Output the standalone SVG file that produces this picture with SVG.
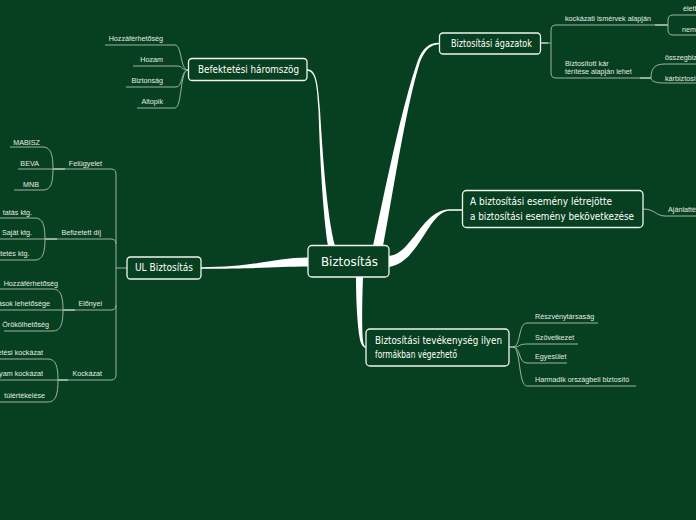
<svg xmlns="http://www.w3.org/2000/svg" width="696" height="520" viewBox="0 0 696 520">
<style>
.bg{fill:#074020}
.box{fill:#074020;stroke:#f2f4f2;stroke-width:1.3}
.bt{font-family:"DejaVu Sans","Liberation Sans",sans-serif;fill:#ffffff}
.t{font-family:"Liberation Sans",Arial,sans-serif;font-size:7.2px;fill:#e4ebe5}
.ln{fill:none;stroke:#9db3a3;stroke-width:1}
.hl{fill:none;stroke:#d8e2da;stroke-width:1.2}
.br{fill:#ffffff}
</style>
<rect class="bg" x="0" y="0" width="696" height="520"/>
<g id="connectors">
<path class="br" d="M307,69.2 C317,69.2 318,85 320,110 C323,160 327,215 335,246 L328,246 C323,215 320,160 318.5,110 C317,87 316,70.8 307,70.8 Z"/>
<path class="br" d="M383,246 C392,200 405,110 420,62 C425,50 430,44.6 439,44.2 L439,42.8 C429,43 423,48 418,60 C402,105 385,190 373,246 Z"/>
<path class="br" d="M389,256 C412,254 422,209.2 450,209.2 L463,209.2 L463,210.8 L450,210.8 C428,211 420,262 389,267 Z"/>
<path class="br" d="M356,277 C356,305 358,335 361,343 C362,346 364,347.8 366,347.8 L366,346.4 C364.5,346.4 363.7,345 363.2,342 C361.8,330 362,305 363,277 Z"/>
<path class="br" d="M308,257.5 C275,257.5 255,267.3 201,267.3 L201,268.7 C258,268.7 278,266.5 308,266.5 Z"/>
<path class="ln" d="M188,70 C180,70 182,45 175,45 L105,45"/>
<path class="ln" d="M188,70 C181,70 183,66 177,66 L133,66"/>
<path class="ln" d="M188,70 C181,70 183,87 176,87 L126,87"/>
<path class="ln" d="M188,70 C180,70 182,108 175,108 L137,108"/>
<path class="ln" d="M540,43 L551,43 M551,43 L551,30 Q551,25 556,25 L668,25 M551,43 L551,73 Q551,78 556,78 L651,78"/>
<path class="hl" d="M540,43 L548,43 M655,25 L668,25 M640,78 L651,78"/>
<path class="ln" d="M668,25 L668,20 Q668,15 673,15 L696,15 M668,25 L668,30 Q668,35 673,35 L696,35"/>
<path class="ln" d="M651,78 C651,68 655,64 665,64 L696,64 M651,78 C651,81 655,83 665,83 L696,83"/>
<path class="ln" d="M643,209 C655,209 656,216 665,216 L696,216"/>
<path class="hl" d="M509,347 L515,347"/>
<path class="ln" d="M513,347 C521,347 518,323 527,323 L598,323"/>
<path class="ln" d="M513,347 C521,347 518,344 527,344 L578,344"/>
<path class="ln" d="M513,347 C521,347 518,363 527,363 L567,363"/>
<path class="ln" d="M513,347 C521,347 518,386 527,386 L636,386"/>
<path class="ln" d="M116,268 L127,268"/>
<path class="ln" d="M53,169 L111,169 Q116,169 116,174 L116,375 Q116,380 111,380 L58,380"/>
<path class="ln" d="M45,239 L111,239 Q116,239 116,244"/>
<path class="ln" d="M63,310 L111,310 Q116,310 116,305"/>
<path class="hl" d="M53,169 L65,169 M45,239 L57,239 M63,310 L75,310 M58,380 L68,380"/>
<path class="ln" d="M10,147 L43,147 C51,147 53,155 53,169 M14,190 L43,190 C51,190 53,183 53,169 M18,169 L53,169"/>
<path class="ln" d="M0,218 L35,218 C43,218 45,226 45,239 M0,260 L35,260 C43,260 45,252 45,239 M0,239 L45,239"/>
<path class="ln" d="M0,289 L53,289 C61,289 63,297 63,310 M4,331 L53,331 C61,331 63,323 63,310 M0,310 L63,310"/>
<path class="ln" d="M0,359 L48,359 C56,359 58,367 58,380 M0,402 L48,402 C56,402 58,394 58,380 M0,380 L58,380"/>
</g>
<g id="node-center">
<rect class="box" x="308" y="245.5" width="81" height="31.5" rx="4"/>
<text class="bt" x="321" y="265.5" font-size="13" textLength="57" lengthAdjust="spacingAndGlyphs">Biztosítás</text>
</g>
<g id="node-befektetesi">
<rect class="box" x="188.5" y="58.5" width="118.5" height="22" rx="3.5"/>
<text class="bt" x="198" y="72.5" font-size="10" textLength="101" lengthAdjust="spacingAndGlyphs">Befektetési háromszög</text>
</g>
<g id="node-agazatok">
<rect class="box" x="439.5" y="33" width="101" height="21" rx="3.5"/>
<text class="bt" x="451" y="46.5" font-size="10" textLength="81" lengthAdjust="spacingAndGlyphs">Biztosítási ágazatok</text>
</g>
<g id="node-esemeny">
<rect class="box" x="462.5" y="190.5" width="180.5" height="37" rx="4"/>
<text class="bt" x="470" y="204.5" font-size="10" textLength="142" lengthAdjust="spacingAndGlyphs">A biztosítási esemény létrejötte</text>
<text class="bt" x="470" y="219.5" font-size="10" textLength="164" lengthAdjust="spacingAndGlyphs">a biztosítási esemény bekövetkezése</text>
</g>
<g id="node-tevekenyseg">
<rect class="box" x="366" y="329" width="143" height="37" rx="4"/>
<text class="bt" x="375" y="343.5" font-size="10" textLength="127" lengthAdjust="spacingAndGlyphs">Biztosítási tevékenység ilyen</text>
<text class="bt" x="375" y="357.5" font-size="10" textLength="82" lengthAdjust="spacingAndGlyphs">formákban végezhető</text>
</g>
<g id="node-ul">
<rect class="box" x="127" y="257" width="74" height="22" rx="3.5"/>
<text class="bt" x="135" y="270.5" font-size="10" textLength="58" lengthAdjust="spacingAndGlyphs">UL Biztosítás</text>
</g>
<g id="node-befektetesi-children">
<text class="t" x="163" y="41" text-anchor="end">Hozzáférhetőség</text>
<text class="t" x="163" y="62" text-anchor="end">Hozam</text>
<text class="t" x="163" y="83" text-anchor="end">Biztonság</text>
<text class="t" x="163" y="104" text-anchor="end">Altopik</text>
</g>
<g id="node-agazatok-children">
<text class="t" x="565" y="21">kockázati ismérvek alapján</text>
<text class="t" x="565" y="65.5">Biztosított kár</text>
<text class="t" x="565" y="74">térítése alapján lehet</text>
<text class="t" x="683" y="10.5">életbiztosítás</text>
<text class="t" x="682" y="31.5">nem életbiztosítás</text>
<text class="t" x="665" y="59.5">összegbiztosítás</text>
<text class="t" x="665" y="80.5">kárbiztosítás</text>
</g>
<g id="node-esemeny-children">
<text class="t" x="668" y="212">Ajánlattétel</text>
</g>
<g id="node-tevekenyseg-children">
<text class="t" x="535" y="319">Részvénytársaság</text>
<text class="t" x="535" y="340">Szövetkezet</text>
<text class="t" x="535" y="359">Egyesület</text>
<text class="t" x="535" y="382">Harmadik országbeli biztosító</text>
</g>
<g id="node-ul-children">
<text class="t" x="102" y="165.5" text-anchor="end">Felügyelet</text>
<text class="t" x="40" y="144.5" text-anchor="end">MABISZ</text>
<text class="t" x="39" y="165.5" text-anchor="end">BEVA</text>
<text class="t" x="39" y="186.5" text-anchor="end">MNB</text>
<text class="t" x="101" y="235" text-anchor="end">Befizetett díj</text>
<text class="t" x="32" y="214.5" text-anchor="end">tatás ktg.</text>
<text class="t" x="32" y="235" text-anchor="end">Saját ktg.</text>
<text class="t" x="29.5" y="256" text-anchor="end">Befektetés ktg.</text>
<text class="t" x="102" y="306" text-anchor="end">Előnyei</text>
<text class="t" x="58" y="285.5" text-anchor="end">Hozzáférhetőség</text>
<text class="t" x="50" y="306" text-anchor="end">ások lehetősége</text>
<text class="t" x="49" y="327" text-anchor="end">Örökölhetőség</text>
<text class="t" x="102" y="376" text-anchor="end">Kockázat</text>
<text class="t" x="43" y="355" text-anchor="end">Befektetési kockázat</text>
<text class="t" x="43" y="376" text-anchor="end">Árfolyam kockázat</text>
<text class="t" x="45" y="397.5" text-anchor="end">túlértékelése</text>
</g>
</svg>
